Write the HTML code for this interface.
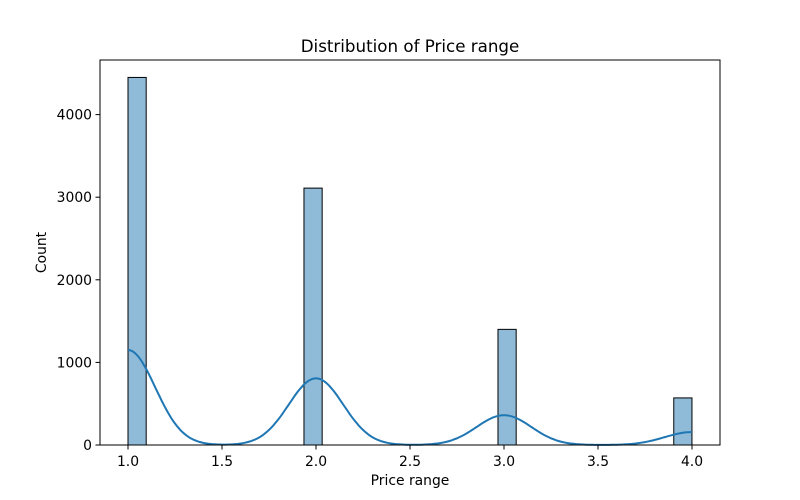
<!DOCTYPE html>
<html><head><meta charset="utf-8">
<style>body{margin:0;background:#fff}svg{display:block;font-family:"DejaVu Sans","Liberation Sans",sans-serif}</style>
</head><body>
<svg id="chart" width="800" height="500">
<rect width="800" height="500" fill="#fff"/>
<text x="410" y="52" text-anchor="middle" font-size="16.7">Distribution of Price range</text>
<g id="bars"></g>
<path id="kde" fill="none" stroke="#1f77b4" stroke-width="2"/>
<rect x="100" y="60" width="620" height="385" fill="none" stroke="#000" stroke-width="1"/>
<g id="axes"></g>
<text x="410" y="485" text-anchor="middle" font-size="13.9">Price range</text>
<text transform="translate(46,252.5) rotate(-90)" text-anchor="middle" font-size="13.9">Count</text>
</svg>
<script>
const binStarts=[1.0,1.936,2.968,3.903];
const counts=[4450,3110,1400,570];
const binWidth=0.0968;
const kdeCenters=[1,2,3,4];
const kdePeaks=[1150,807,361,157];
const kdeSigma=0.145;
const xTicks=[1.0,1.5,2.0,2.5,3.0,3.5,4.0];
const yTicks=[0,1000,2000,3000,4000];
const NS="http://www.w3.org/2000/svg";
const xs=v=>128+(v-1)*188;
const ys=v=>445-v*0.0826;
const bars=document.getElementById('bars');
binStarts.forEach((b,i)=>{
  const r=document.createElementNS(NS,'rect');
  r.setAttribute('x',xs(b));r.setAttribute('width',xs(b+binWidth)-xs(b));
  r.setAttribute('y',ys(counts[i]));r.setAttribute('height',ys(0)-ys(counts[i]));
  r.setAttribute('fill','rgba(31,119,180,0.5)');r.setAttribute('stroke','#000');r.setAttribute('stroke-width','1');
  
  
  bars.appendChild(r);
});
let d='';
for(let k=0;k<=300;k++){
  const x=1+k*0.01;let y=0;
  kdeCenters.forEach((c,i)=>{y+=kdePeaks[i]*Math.exp(-0.5*((x-c)/kdeSigma)**2);});
  d+=(k?'L':'M')+xs(x).toFixed(1)+','+ys(y).toFixed(1);
}
document.getElementById('kde').setAttribute('d',d);
const ax=document.getElementById('axes');
xTicks.forEach(t=>{
  const l=document.createElementNS(NS,'line');
  l.setAttribute('x1',xs(t));l.setAttribute('x2',xs(t));l.setAttribute('y1',445);l.setAttribute('y2',449.5);l.setAttribute('stroke','#000');
  
  
  ax.appendChild(l);
  const tx=document.createElementNS(NS,'text');
  tx.setAttribute('x',xs(t));tx.setAttribute('y',466);tx.setAttribute('text-anchor','middle');tx.setAttribute('font-size','13.9');
  tx.textContent=t.toFixed(1);
  
  
  ax.appendChild(tx);
});
yTicks.forEach(t=>{
  const l=document.createElementNS(NS,'line');
  l.setAttribute('x1',95.5);l.setAttribute('x2',100);l.setAttribute('y1',ys(t));l.setAttribute('y2',ys(t));l.setAttribute('stroke','#000');
  
  
  ax.appendChild(l);
  const tx=document.createElementNS(NS,'text');
  tx.setAttribute('x',92);tx.setAttribute('y',ys(t)+5);tx.setAttribute('text-anchor','end');tx.setAttribute('font-size','13.9');
  tx.textContent=t;
  
  
  ax.appendChild(tx);
});
</script>
</body></html>
